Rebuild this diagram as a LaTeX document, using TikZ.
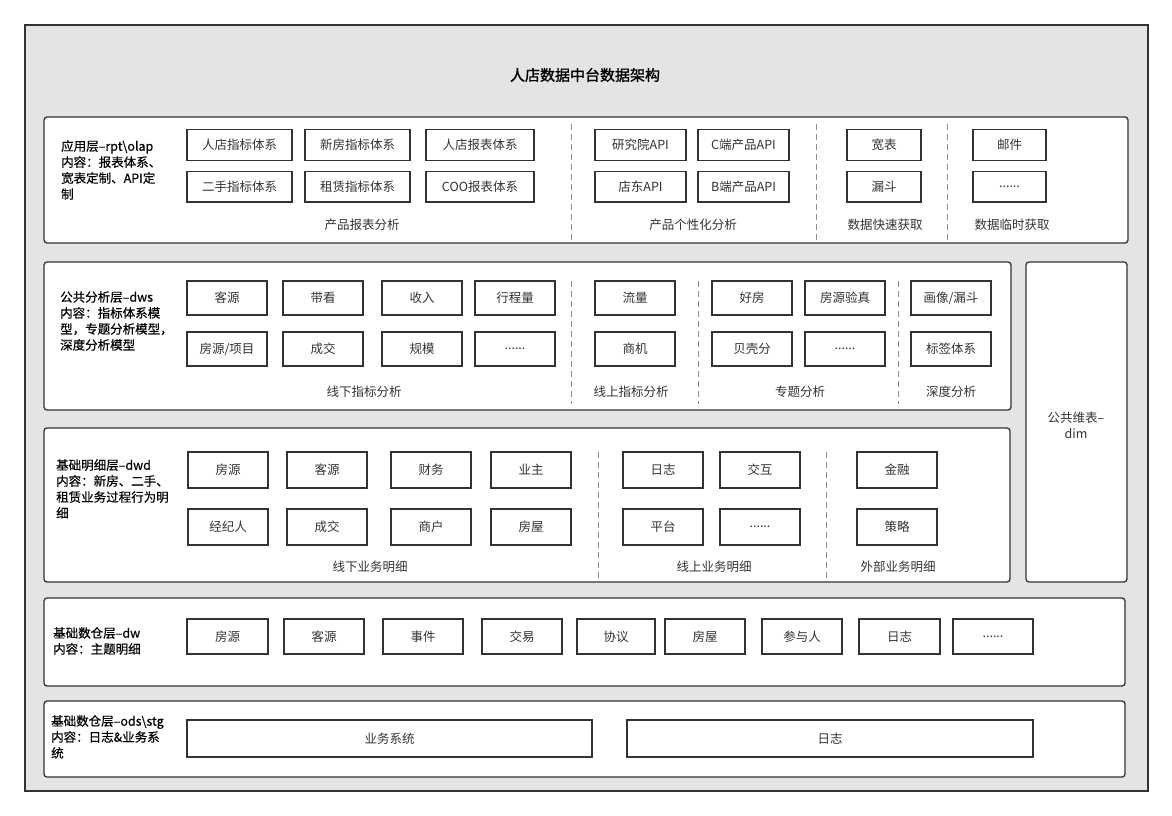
\documentclass[tikz,border=0pt]{standalone}
\usepackage{fontspec}
\setmainfont{Noto Sans CJK SC}
\newfontfamily\titlefont[FakeBold=1.5]{Noto Sans CJK SC}
\newfontfamily\descfont[FakeBold=0.4]{Noto Sans CJK SC}
\definecolor{framegray}{HTML}{E4E4E4}
\definecolor{ink}{HTML}{333333}
\definecolor{sepgray}{HTML}{8C8C8C}
\newcommand\mybox[7][bx]{\node[#1, minimum width={#5-#3}, minimum height={#6-#4}] (#2) at ({(#3+#5)/2},{(#4+#6)/2}) {#7};}
\begin{document}
\begin{tikzpicture}[x=1pt,y=-1pt,
 outer/.style={draw=ink, line width=2pt, fill=framegray, inner sep=0},
 layer/.style={draw=ink, line width=1.3pt, fill=white, rounded corners=3pt, inner sep=0},
 bx/.style={draw=ink, line width=1.6pt, fill=white, inner sep=0, font=\fontsize{12.5}{14}\selectfont, text=ink},
 sep/.style={draw=sepgray, line width=0.9pt, dash pattern=on 6pt off 4pt},
 capt/.style={font=\fontsize{12.5}{14}\selectfont, text=ink, inner sep=0},
 desc/.style={font=\descfont\fontsize{12.5}{16}\selectfont, align=left, anchor=north west, inner sep=0, text=black}]
\useasboundingbox (0,0) rectangle (1172,816);
\fill[white] (0,0) rectangle (1172,816);
\mybox[outer]{frame}{25}{25}{1148}{791}{}
\node[font=\titlefont\fontsize{15}{18}\selectfont, text=black] (title) at (585,75) {人店数据中台数据架构};

% ---------------- app layer ----------------
\mybox[layer]{app}{44}{117}{1128}{243}{}
\node[desc] (appdesc) at (61,140) {应用层–rpt\textbackslash olap\\内容：报表体系、\\宽表定制、API定\\制};
\mybox{a1}{187}{129.5}{292}{160.5}{人店指标体系}
\mybox{a2}{305}{129.5}{410}{160.5}{新房指标体系}
\mybox{a3}{426}{129.5}{534}{160.5}{人店报表体系}
\mybox{a4}{187}{171.5}{292}{202}{二手指标体系}
\mybox{a5}{305}{171.5}{410}{202}{租赁指标体系}
\mybox{a6}{426}{171.5}{534}{202}{COO报表体系}
\node[capt] (acap1) at (362,225) {产品报表分析};
\draw[sep] (571,124) -- (571,240);
\mybox{a7}{595}{129.5}{686}{160.5}{研究院API}
\mybox{a8}{698}{129.5}{789}{160.5}{C端产品API}
\mybox{a9}{595}{171.5}{686}{202}{店东API}
\mybox{a10}{698}{171.5}{789}{202}{B端产品API}
\node[capt] (acap2) at (693,225) {产品个性化分析};
\draw[sep] (816,124) -- (816,240);
\mybox{a11}{847}{129.5}{921}{160.5}{宽表}
\mybox{a12}{847}{171.5}{921}{202}{漏斗}
\node[capt] (acap3) at (885,225) {数据快速获取};
\draw[sep] (947,124) -- (947,240);
\mybox{a13}{973}{129.5}{1046}{160.5}{邮件}
\mybox{a14}{973}{171.5}{1046}{202}{......}
\node[capt] (acap4) at (1012,225) {数据临时获取};

% ---------------- dws layer ----------------
\mybox[layer]{dws}{44}{262}{1011}{410}{}
\node[desc] (dwsdesc) at (60,291) {公共分析层–dws\\内容：指标体系模\\型，专题分析模型，\\深度分析模型};
\mybox{s1}{187}{281}{267}{315}{客源}
\mybox{s2}{283}{281}{363}{315}{带看}
\mybox{s3}{382}{281}{462}{315}{收入}
\mybox{s4}{475}{281}{555}{315}{行程量}
\mybox{s5}{187}{332}{267}{366}{房源/项目}
\mybox{s6}{283}{332}{363}{366}{成交}
\mybox{s7}{382}{332}{462}{366}{规模}
\mybox{s8}{475}{332}{555}{366}{......}
\node[capt] (scap1) at (364,392) {线下指标分析};
\draw[sep] (571,281) -- (571,404);
\mybox{s9}{595}{281}{675}{315}{流量}
\mybox{s10}{595}{332}{675}{366}{商机}
\node[capt] (scap2) at (631,392) {线上指标分析};
\draw[sep] (698,281) -- (698,404);
\mybox{s11}{712}{281}{792}{315}{好房}
\mybox{s12}{805}{281}{885}{315}{房源验真}
\mybox{s13}{712}{332}{792}{366}{贝壳分}
\mybox{s14}{805}{332}{885}{366}{......}
\node[capt] (scap3) at (800,392) {专题分析};
\draw[sep] (898,281) -- (898,404);
\mybox{s15}{911}{281}{991}{315}{画像/漏斗}
\mybox{s16}{911}{332}{991}{366}{标签体系}
\node[capt] (scap4) at (951,392) {深度分析};

% ---------------- dim ----------------
\mybox[layer]{dim}{1026}{262}{1127}{582}{}
\node[capt, align=center, font=\fontsize{12.5}{16}\selectfont] (dimtxt) at (1076,425) {公共维表–\\dim};

% ---------------- dwd layer ----------------
\mybox[layer]{dwd}{44}{428}{1010}{582}{}
\node[desc] (dwddesc) at (56,459) {基础明细层–dwd\\内容：新房、二手、\\租赁业务过程行为明\\细};
\mybox{d1}{188}{452}{268}{488}{房源}
\mybox{d2}{287}{452}{367}{488}{客源}
\mybox{d3}{391}{452}{471}{488}{财务}
\mybox{d4}{491}{452}{571}{488}{业主}
\mybox{d5}{188}{509}{268}{545}{经纪人}
\mybox{d6}{287}{509}{367}{545}{成交}
\mybox{d7}{391}{509}{471}{545}{商户}
\mybox{d8}{491}{509}{571}{545}{房屋}
\node[capt] (dcap1) at (370,567) {线下业务明细};
\draw[sep] (598,452) -- (598,578);
\mybox{d9}{623}{452}{703}{488}{日志}
\mybox{d10}{720}{452}{800}{488}{交互}
\mybox{d11}{623}{509}{703}{545}{平台}
\mybox{d12}{720}{509}{800}{545}{......}
\node[capt] (dcap2) at (714,567) {线上业务明细};
\draw[sep] (826,452) -- (826,578);
\mybox{d13}{857}{452}{937}{488}{金融}
\mybox{d14}{857}{509}{937}{545}{策略}
\node[capt] (dcap3) at (898,567) {外部业务明细};

% ---------------- dw layer ----------------
\mybox[layer]{dw}{44}{598}{1125}{686}{}
\node[desc] (dwdesc) at (53,627) {基础数仓层–dw\\内容：主题明细};
\mybox{w1}{187}{619}{268}{654}{房源}
\mybox{w2}{284}{619}{364}{654}{客源}
\mybox{w3}{383}{619}{463}{654}{事件}
\mybox{w4}{482}{619}{562}{654}{交易}
\mybox{w5}{577}{619}{655}{654}{协议}
\mybox{w6}{665}{619}{745}{654}{房屋}
\mybox{w7}{762}{619}{842}{654}{参与人}
\mybox{w8}{859}{619}{940}{654}{日志}
\mybox{w9}{953}{619}{1033}{654}{......}

% ---------------- ods layer ----------------
\mybox[layer]{ods}{44}{701}{1125}{777}{}
\node[desc] (odsdesc) at (51,715) {基础数仓层–ods\textbackslash stg\\内容：日志\&业务系\\统};
\mybox{o1}{187}{720}{592}{757}{业务系统}
\mybox{o2}{627}{720}{1033}{757}{日志}
\end{tikzpicture}
\end{document}
